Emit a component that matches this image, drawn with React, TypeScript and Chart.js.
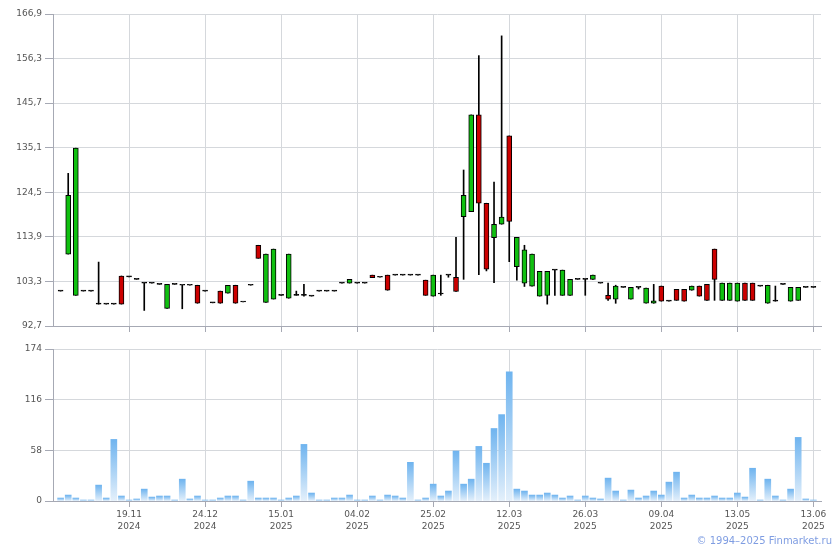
import React, { useEffect, useRef } from "react";
import { Chart, registerables } from "chart.js";

Chart.register(...registerables);

// ---- data ----
const OPEN = [
  101.0, 109.8, 100.0, 101.0, 101.0, 97.9, 97.9, 97.9, 104.6, 104.4,
  103.8, 102.9, 102.9, 102.6, 96.9, 102.6, 102.4, 102.4, 102.4, 101.0,
  98.2, 101.0, 100.5, 102.4, 98.4, 102.4, 111.9, 98.3, 99.1, 100.0,
  99.3, 100.0, 100.0, 99.8, 101.0, 101.0, 101.0, 102.9, 102.9, 102.9,
  102.9, 104.8, 104.3, 104.8, 104.8, 104.8, 104.8, 104.8, 103.6, 99.8,
  100.3, 104.8, 104.3, 118.7, 119.9, 142.9, 121.9, 113.7, 116.9, 137.9,
  106.8, 102.9, 102.2, 99.8, 100.0, 106.0, 100.0, 100.0, 103.8, 103.8,
  103.8, 102.9, 100.0, 99.1, 101.9, 99.1, 101.9, 98.1, 98.1, 102.2,
  98.6, 101.4, 101.4, 101.2, 102.2, 102.6, 111.0, 98.8, 98.8, 98.6,
  102.9, 102.9, 102.2, 98.1, 98.6, 102.6, 98.6, 98.8, 101.9, 101.9,
];
const HIGH = [
  101.0, 129.0, 135.0, 101.0, 101.0, 107.9, 97.9, 97.9, 104.6, 104.4,
  103.8, 102.9, 102.9, 102.6, 102.6, 102.6, 102.4, 102.4, 102.4, 101.0,
  98.2, 101.0, 102.4, 102.4, 98.4, 102.4, 111.9, 109.8, 111.0, 100.0,
  109.8, 101.0, 102.6, 99.8, 101.0, 101.0, 101.0, 102.9, 103.8, 102.9,
  102.9, 104.8, 104.3, 104.8, 104.8, 104.8, 104.8, 104.8, 103.6, 104.8,
  104.8, 104.8, 113.8, 129.8, 142.9, 157.0, 121.9, 126.9, 161.7, 137.9,
  113.8, 111.9, 109.8, 105.7, 105.7, 106.0, 106.0, 103.8, 103.8, 103.8,
  104.8, 102.9, 102.9, 102.4, 101.9, 101.9, 101.9, 101.7, 102.6, 102.2,
  98.6, 101.4, 101.4, 102.2, 102.2, 102.6, 111.0, 102.9, 102.9, 102.9,
  102.9, 102.9, 102.2, 102.4, 102.2, 102.6, 101.9, 101.9, 101.9, 101.9,
];
const LOW = [
  101.0, 109.8, 100.0, 101.0, 101.0, 97.9, 97.9, 97.9, 97.9, 104.4,
  103.8, 96.4, 102.9, 102.6, 96.9, 102.6, 96.8, 102.4, 98.1, 101.0,
  98.2, 98.1, 100.5, 98.1, 98.4, 102.4, 108.8, 98.3, 99.1, 100.0,
  99.3, 100.0, 99.8, 99.8, 101.0, 101.0, 101.0, 102.9, 102.9, 102.9,
  102.9, 104.2, 104.3, 101.2, 104.8, 104.8, 104.8, 104.8, 100.0, 99.8,
  100.0, 104.3, 100.9, 103.8, 119.9, 104.9, 105.8, 103.0, 116.9, 108.0,
  103.6, 102.1, 102.2, 99.8, 97.9, 100.0, 100.0, 100.0, 103.8, 100.0,
  103.8, 102.9, 98.8, 98.1, 101.9, 99.1, 101.5, 98.1, 98.1, 98.6,
  98.6, 98.8, 98.6, 101.2, 99.8, 98.8, 98.8, 98.8, 98.8, 98.6,
  98.8, 98.8, 102.2, 98.1, 98.6, 102.6, 98.6, 98.8, 101.9, 101.9,
];
const CLOSE = [
  101.0, 123.8, 135.0, 101.0, 101.0, 97.9, 97.9, 97.9, 97.9, 104.4,
  103.8, 102.9, 102.9, 102.6, 102.6, 102.6, 102.4, 102.4, 98.1, 101.0,
  98.2, 98.1, 102.4, 98.1, 98.4, 102.4, 108.8, 109.8, 111.0, 100.0,
  109.8, 100.0, 100.0, 99.8, 101.0, 101.0, 101.0, 102.9, 103.8, 102.9,
  102.9, 104.2, 104.3, 101.2, 104.8, 104.8, 104.8, 104.8, 100.0, 104.8,
  100.3, 104.8, 100.9, 123.8, 142.9, 121.9, 106.2, 116.9, 118.6, 117.6,
  113.8, 110.8, 109.8, 105.7, 105.7, 106.0, 106.0, 103.8, 103.8, 103.8,
  104.8, 102.9, 99.1, 102.2, 101.9, 101.9, 101.9, 101.7, 98.7, 98.6,
  98.6, 98.8, 98.6, 102.2, 99.8, 98.8, 103.8, 102.9, 102.9, 102.9,
  98.8, 98.8, 102.2, 102.4, 98.6, 102.6, 101.9, 101.9, 101.9, 101.9,
];
const VOLUME = [
  3.4, 6.8, 3.4, 1.1, 1.1, 18.2, 3.4, 70.5, 5.7, 1.1,
  2.3, 13.6, 4.5, 5.7, 5.7, 1.1, 25.0, 2.3, 5.7, 1.1,
  1.1, 3.4, 5.7, 5.7, 1.1, 22.7, 3.4, 3.4, 3.4, 1.1,
  3.4, 5.7, 64.8, 9.1, 1.1, 1.1, 3.4, 3.4, 6.8, 1.1,
  1.1, 5.7, 1.1, 6.8, 5.7, 3.4, 44.3, 1.1, 3.4, 19.3,
  5.7, 11.4, 57.2, 19.3, 25.0, 62.5, 43.2, 83.0, 98.9, 147.8,
  13.6, 11.4, 6.8, 6.8, 9.1, 6.8, 3.4, 5.7, 1.1, 5.7,
  3.4, 2.3, 26.2, 11.4, 1.1, 12.5, 3.4, 5.7, 11.4, 6.8,
  21.6, 33.0, 3.4, 6.8, 3.4, 3.4, 5.7, 3.4, 3.4, 9.1,
  4.5, 37.5, 1.1, 25.0, 5.7, 1.1, 13.6, 72.8, 2.3, 1.1,
];
const TICK_INDEX = [9, 19, 29, 39, 49, 59, 69, 79, 89, 99];
const TICK_DATES = ["19.11", "24.12", "15.01", "04.02", "25.02", "12.03", "26.03", "09.04", "13.05", "13.06"];
const TICK_YEARS = ["2024", "2024", "2025", "2025", "2025", "2025", "2025", "2025", "2025", "2025"];
const PRICE_TICKS = [92.7, 103.3, 113.9, 124.5, 135.1, 145.7, 156.3, 166.9];
const VOLUME_TICKS = [0, 58, 116, 174];

// ---- styles ----
const FONT = { family: "'DejaVu Sans', Verdana, sans-serif", size: 9 };
const GRID = "#d5d8dc";
const AXIS = "#a6a9b4";
const TEXT = "#555555";
const GREEN = "#10c010";
const RED = "#cc0000";

function xAxis(showLabels: boolean) {
  return {
    type: "linear" as const,
    min: -1,
    max: 100,
    offset: false,
    afterBuildTicks: (s: any) => {
      s.ticks = TICK_INDEX.map((v) => ({ value: v }));
    },
    afterFit: (s: any) => {
      s.height = showLabels ? 40 : 6;
    },
    grid: { color: GRID, tickColor: AXIS, tickLength: 6, offset: false, drawTicks: true },
    border: { color: AXIS },
    ticks: {
      display: showLabels,
      autoSkip: false,
      maxRotation: 0,
      padding: 2,
      color: TEXT,
      font: { ...FONT, lineHeight: 1.3 },
      callback: (v: any) => {
        const k = TICK_INDEX.indexOf(v);
        return k >= 0 ? [TICK_DATES[k], TICK_YEARS[k]] : "";
      },
    },
  };
}

function yAxis(min: number, max: number, ticks: number[], fmt: (v: number) => string) {
  return {
    type: "linear" as const,
    min,
    max,
    afterBuildTicks: (s: any) => {
      s.ticks = ticks.map((v) => ({ value: v }));
    },
    afterFit: (s: any) => {
      s.width = 53;
    },
    grid: { color: GRID, tickColor: AXIS, tickLength: 8 },
    border: { color: AXIS },
    ticks: { padding: 3, color: TEXT, font: FONT, callback: (v: any) => fmt(Number(v)) },
  };
}

export default function App() {
  const priceRef = useRef<HTMLCanvasElement>(null);
  const volRef = useRef<HTMLCanvasElement>(null);

  useEffect(() => {
    const priceChart = new Chart(priceRef.current!, {
      type: "bar",
      data: {
        datasets: [
          {
            label: "body",
            data: OPEN.map((o, i) => ({ x: i, y: [o, CLOSE[i]] })) as any,
            backgroundColor: OPEN.map((o, i) => (CLOSE[i] > o ? GREEN : CLOSE[i] < o ? RED : "#000000")),
            borderColor: "#000000",
            borderWidth: 1,
            borderSkipped: false,
            barThickness: 5,
            minBarLength: 1,
            grouped: false,
            order: 0,
          },
          {
            label: "wick",
            data: LOW.map((l, i) => ({ x: i, y: [l, HIGH[i]] })) as any,
            backgroundColor: "#000000",
            borderWidth: 0,
            barThickness: 1,
            grouped: false,
            order: 1,
          },
        ],
      },
      options: {
        responsive: false,
        animation: false,
        events: [],
        layout: { padding: { top: 14, right: 19, bottom: 8, left: 0 } },
        plugins: { legend: { display: false }, tooltip: { enabled: false } },
        scales: {
          x: xAxis(false) as any,
          y: yAxis(92.7, 166.9, PRICE_TICKS, (v) => v.toFixed(1).replace(".", ",")) as any,
        },
      },
    });

    const volChart = new Chart(volRef.current!, {
      type: "bar",
      data: {
        datasets: [
          {
            label: "volume",
            data: VOLUME.map((v, i) => ({ x: i, y: v })) as any,
            backgroundColor: (ctx: any) => {
              const chart = ctx.chart;
              if (!chart.chartArea || ctx.type !== "data") return "#9ccbf4";
              const ys = chart.scales.y;
              const v = VOLUME[ctx.dataIndex];
              const top = ys.getPixelForValue(v);
              const bottom = ys.getPixelForValue(0);
              const g = chart.ctx.createLinearGradient(0, top, 0, bottom + 0.01);
              g.addColorStop(0, "#6fb4ef");
              g.addColorStop(1, "#e4f0fb");
              return g;
            },
            borderWidth: 0,
            barThickness: 6,
          },
        ],
      },
      options: {
        responsive: false,
        animation: false,
        events: [],
        layout: { padding: { top: 9, right: 19, bottom: 9, left: 0 } },
        plugins: { legend: { display: false }, tooltip: { enabled: false } },
        scales: {
          x: xAxis(true) as any,
          y: yAxis(0, 174, VOLUME_TICKS, (v) => String(Math.round(v))) as any,
        },
      },
    });

    return () => {
      priceChart.destroy();
      volChart.destroy();
    };
  }, []);

  return (
    <div style={{ position: "fixed", left: 0, top: 0, width: 840, height: 550, background: "#fff", overflow: "hidden" }}>
      <canvas ref={priceRef} width={840} height={340} style={{ position: "absolute", left: 0, top: 0, width: 840, height: 340 }} />
      <canvas ref={volRef} width={840} height={210} style={{ position: "absolute", left: 0, top: 340, width: 840, height: 210 }} />
      <div
        style={{
          position: "absolute",
          right: 8,
          top: 535,
          fontFamily: "'DejaVu Sans', Verdana, sans-serif",
          fontSize: 10,
          lineHeight: "12px",
          color: "#7f9de2",
          whiteSpace: "nowrap",
        }}
      >
        © 1994–2025 Finmarket.ru
      </div>
    </div>
  );
}
